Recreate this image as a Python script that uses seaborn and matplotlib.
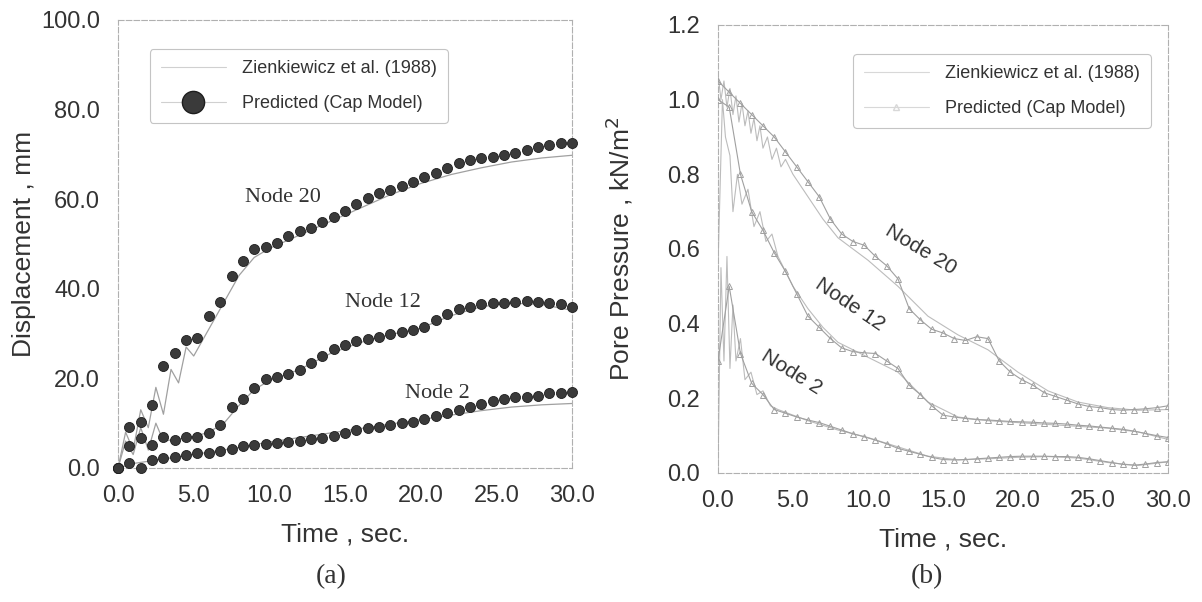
"""Displacement and pore pressure histories: Cap model vs Zienkiewicz et al. (1988)."""

import matplotlib

matplotlib.use("Agg")
import matplotlib.pyplot as plt
import pandas as pd
import seaborn as sns
from matplotlib.lines import Line2D
from matplotlib.ticker import FormatStrFormatter, MultipleLocator

# time steps of the predicted (Cap model) series, every 0.75 s
time_pred = [0.0, 0.75, 1.5, 2.25, 3.0, 3.75, 4.5, 5.25, 6.0, 6.75, 7.5, 8.25, 9.0, 9.75,
             10.5, 11.25, 12.0, 12.75, 13.5, 14.25, 15.0, 15.75, 16.5, 17.25, 18.0, 18.75,
             19.5, 20.25, 21.0, 21.75, 22.5, 23.25, 24.0, 24.75, 25.5, 26.25, 27.0, 27.75,
             28.5, 29.25, 30.0]

# (a) displacement, mm -- predicted
disp_pred_20 = [0.0, 9.2, 10.3, 14.1, 22.8, 25.7, 28.6, 29.0, 33.9, 37.1, 42.9, 46.1, 48.8,
                49.4, 50.3, 51.8, 52.8, 53.5, 54.8, 56.0, 57.4, 58.9, 60.2, 61.3, 62.1, 62.9,
                63.9, 65.0, 65.9, 66.9, 68.0, 68.8, 69.1, 69.5, 69.9, 70.4, 71.0, 71.6, 72.0,
                72.5, 72.6]
disp_pred_12 = [0.0, 4.8, 6.8, 5.1, 7.0, 6.3, 7.0, 7.0, 7.9, 9.6, 13.7, 15.5, 17.9, 19.8,
                20.4, 20.9, 21.9, 23.4, 25.0, 26.5, 27.5, 28.4, 28.7, 29.3, 29.8, 30.4, 30.8,
                31.5, 33.0, 34.4, 35.4, 36.0, 36.6, 36.9, 36.9, 37.1, 37.3, 37.1, 36.8, 36.5,
                35.9]
disp_pred_2 = [0.0, 1.2, 0.0, 1.8, 2.2, 2.5, 2.9, 3.4, 3.4, 3.9, 4.2, 4.8, 5.1, 5.4, 5.5,
               5.7, 6.0, 6.4, 6.8, 7.1, 7.9, 8.5, 8.9, 9.2, 9.6, 10.1, 10.3, 10.9, 11.5, 12.2,
               12.9, 13.7, 14.3, 15.0, 15.5, 15.8, 15.9, 16.1, 16.7, 16.8, 17.0]

# (a) displacement, mm -- Zienkiewicz et al. (1988)
time_ref_20 = [0, 0.5, 1.0, 1.5, 2.0, 2.5, 3.0, 3.5, 4.0, 4.5, 5.0, 6, 7, 8, 9, 10, 12, 14,
               16, 18, 20, 22, 24, 26, 28, 30]
disp_ref_20 = [0, 8, 4, 13, 9, 18, 12, 22, 19, 27, 25, 31, 37, 43, 47, 49, 52, 55, 58, 61,
               63.5, 65.5, 67, 68.3, 69.2, 69.8]
time_ref_12 = [0, 0.5, 1, 1.5, 2, 2.5, 3, 4, 5, 6, 7, 8, 9, 10, 12, 14, 16, 18, 20, 22, 24,
               26, 28, 30]
disp_ref_12 = [0, 6, 3, 9, 4, 10, 6, 6.5, 7, 8, 10, 14, 17.5, 19.5, 22, 25.5, 28, 29.8, 31.2,
               34, 36, 36.8, 36.5, 35.2]
time_ref_2 = [0, 1, 2, 4, 6, 8, 10, 12, 14, 16, 18, 20, 22, 24, 26, 28, 30]
disp_ref_2 = [0, 1.0, 1.5, 2.5, 3.5, 4.6, 5.8, 6.8, 7.8, 8.8, 9.8, 10.8, 11.8, 12.8, 13.6,
              14.1, 14.4]

# (b) pore pressure, kN/m2 -- predicted
pp_pred_20 = [1.05, 1.02, 0.99, 0.96, 0.93, 0.90, 0.86, 0.82, 0.78, 0.74, 0.68, 0.64, 0.62,
              0.61, 0.58, 0.555, 0.52, 0.44, 0.41, 0.385, 0.375, 0.36, 0.355, 0.365, 0.36,
              0.30, 0.27, 0.25, 0.235, 0.215, 0.205, 0.195, 0.185, 0.178, 0.175, 0.17, 0.168,
              0.17, 0.172, 0.175, 0.18]
pp_pred_12 = [1.0, 0.98, 0.80, 0.70, 0.65, 0.59, 0.54, 0.48, 0.42, 0.39, 0.36, 0.335, 0.325,
              0.322, 0.32, 0.30, 0.28, 0.235, 0.21, 0.18, 0.155, 0.15, 0.146, 0.143, 0.142,
              0.14, 0.138, 0.137, 0.136, 0.134, 0.133, 0.131, 0.128, 0.126, 0.123, 0.12,
              0.117, 0.112, 0.106, 0.10, 0.095]
pp_pred_2 = [0.30, 0.50, 0.32, 0.24, 0.21, 0.17, 0.16, 0.15, 0.142, 0.135, 0.125, 0.115,
             0.105, 0.097, 0.088, 0.078, 0.066, 0.058, 0.05, 0.042, 0.036, 0.035, 0.036,
             0.038, 0.04, 0.042, 0.044, 0.045, 0.045, 0.045, 0.044, 0.044, 0.042, 0.038,
             0.033, 0.028, 0.023, 0.021, 0.024, 0.028, 0.03]

# (b) pore pressure, kN/m2 -- Zienkiewicz et al. (1988)
time_pp_ref_20 = [0, 0.2, 0.4, 0.6, 0.8, 1.0, 1.2, 1.4, 1.6, 1.8, 2.0, 2.2, 2.4, 2.6, 2.8,
                  3.0, 3.3, 3.6, 3.9, 4.2, 4.5, 5, 6, 7, 8, 9, 10, 12, 14, 16, 18, 20, 22,
                  24, 26, 28, 30]
pp_ref_20 = [1.07, 1.00, 1.05, 0.98, 1.03, 0.96, 1.01, 0.94, 0.99, 0.93, 0.97, 0.91, 0.95,
             0.89, 0.93, 0.87, 0.90, 0.84, 0.87, 0.82, 0.84, 0.80, 0.74, 0.68, 0.63, 0.60,
             0.57, 0.50, 0.42, 0.37, 0.33, 0.27, 0.22, 0.19, 0.175, 0.168, 0.17]
time_pp_ref_12 = [0, 0.3, 0.5, 0.8, 1.0, 1.3, 1.6, 2.0, 2.4, 2.8, 3.2, 3.6, 4, 5, 6, 7, 8,
                  9, 10, 12, 14, 16, 18, 20, 22, 24, 26, 28, 30]
pp_ref_12 = [0.55, 1.0, 0.90, 0.85, 0.70, 0.80, 0.72, 0.76, 0.66, 0.70, 0.62, 0.64, 0.58,
             0.50, 0.44, 0.39, 0.35, 0.33, 0.31, 0.27, 0.19, 0.15, 0.14, 0.135, 0.13, 0.125,
             0.12, 0.11, 0.09]
time_pp_ref_2 = [0, 0.2, 0.4, 0.6, 0.8, 1.0, 1.2, 1.5, 1.8, 2.2, 2.6, 3, 3.5, 4, 5, 6, 8,
                 10, 12, 14, 16, 18, 20, 22, 24, 26, 28, 30]
pp_ref_2 = [0.0, 0.55, 0.30, 0.58, 0.28, 0.45, 0.30, 0.36, 0.25, 0.27, 0.21, 0.22, 0.18,
            0.17, 0.155, 0.14, 0.115, 0.095, 0.07, 0.045, 0.035, 0.038, 0.042, 0.044, 0.04,
            0.028, 0.02, 0.03]

SANS = "Liberation Sans"
SERIF = "Liberation Serif"
DARK = "#3a3a3a"
LIGHT = "#a0a0a0"
FAINT = "#bcbcbc"


def _style_axes(ax, xmajor, xminor, ymajor, yminor, xpad):
    ax.xaxis.set_major_locator(MultipleLocator(xmajor))
    ax.xaxis.set_minor_locator(MultipleLocator(xminor))
    ax.yaxis.set_major_locator(MultipleLocator(ymajor))
    ax.yaxis.set_minor_locator(MultipleLocator(yminor))
    ax.xaxis.set_major_formatter(FormatStrFormatter("%.1f"))
    ax.yaxis.set_major_formatter(FormatStrFormatter("%.1f"))
    ax.tick_params(which="both", direction="in", color="#9a9a9a", top=False, right=False)
    ax.tick_params(which="major", length=8, width=0.8, labelsize=17, labelcolor="#333333")
    ax.tick_params(which="minor", length=5, width=0.6)
    ax.tick_params(axis="y", which="major", pad=13)
    ax.tick_params(axis="x", which="major", pad=xpad)
    for label in ax.get_xticklabels() + ax.get_yticklabels():
        label.set_family(SANS)
    for spine in ax.spines.values():
        spine.set_color("#b0b0b0")
        spine.set_linewidth(0.8)
        spine.set_linestyle((0, (5, 2)))
        spine.set_visible(True)
    ax.set_xlim(0, 30)


def _legend(ax, handles, x0):
    leg = ax.legend(
        handles=handles,
        loc="upper left",
        bbox_to_anchor=(x0, 0.955),
        prop={"family": SANS, "size": 13},
        handlelength=3.6,
        handletextpad=0.9,
        labelspacing=1.0,
        borderpad=0.6,
        frameon=True,
        fancybox=True,
        framealpha=1,
    )
    leg.get_frame().set_edgecolor("#c4c4c4")
    leg.get_frame().set_linewidth(0.8)
    for text in leg.get_texts():
        text.set_color("#333333")


sns.set_theme(style="white")
plt.rcParams["font.family"] = [SANS, "DejaVu Sans"]

fig = plt.figure(figsize=(12.02, 6.02), dpi=100)
ax1 = fig.add_axes([0.0982, 0.2226, 0.3777, 0.7442])
ax2 = fig.add_axes([0.5973, 0.2143, 0.3744, 0.7442])

# ---------------- (a) displacement ----------------
for t_ref, z_ref in [(time_ref_20, disp_ref_20), (time_ref_12, disp_ref_12), (time_ref_2, disp_ref_2)]:
    sns.lineplot(x=t_ref, y=z_ref, ax=ax1, color=LIGHT, linewidth=0.9, sort=False,
                 estimator=None, zorder=2)

pred = pd.DataFrame({
    "time": time_pred * 3,
    "disp": disp_pred_20 + disp_pred_12 + disp_pred_2,
    "node": ["20"] * len(time_pred) + ["12"] * len(time_pred) + ["2"] * len(time_pred),
})
sns.scatterplot(data=pred, x="time", y="disp", ax=ax1, color=DARK, s=52,
                edgecolor="#1e1e1e", linewidth=0.6, legend=False, zorder=3, clip_on=False)

ax1.set_ylim(0, 100)
_style_axes(ax1, 5, 2.5, 20, 10, xpad=12)
ax1.set_xlabel("Time , sec.", fontsize=19, family=SANS, color="#333333")
ax1.set_ylabel("Displacement , mm", fontsize=19, family=SANS, color="#333333")
ax1.xaxis.set_label_coords(0.5, -0.122)
ax1.yaxis.set_label_coords(-0.18, 0.5)

for label, t, v in [("Node 20", 10.9, 60.3), ("Node 12", 17.5, 37.0), ("Node 2", 21.1, 16.7)]:
    ax1.text(t, v, label, family=SERIF, fontsize=16, color="#333333", ha="center", va="center")

_legend(ax1, [
    Line2D([], [], color="#d0d0d0", linewidth=0.8, label="Zienkiewicz et al. (1988)"),
    Line2D([], [], color="#d0d0d0", linewidth=0.8, marker="o", markersize=16,
           markerfacecolor=DARK, markeredgecolor="#1e1e1e", label="Predicted (Cap Model)"),
], x0=0.05)

# ---------------- (b) pore pressure ----------------
for t_ref, p_ref in [(time_pp_ref_20, pp_ref_20), (time_pp_ref_12, pp_ref_12), (time_pp_ref_2, pp_ref_2)]:
    sns.lineplot(x=t_ref, y=p_ref, ax=ax2, color=FAINT, linewidth=0.8, sort=False,
                 estimator=None, zorder=2)

for p_pred in [pp_pred_20, pp_pred_12, pp_pred_2]:
    sns.lineplot(x=time_pred, y=p_pred, ax=ax2, color=LIGHT, linewidth=0.8, sort=False,
                 estimator=None, marker="^", markersize=5, markerfacecolor="none",
                 markeredgecolor=LIGHT, markeredgewidth=0.7, zorder=3)

ax2.set_ylim(0, 1.2)
_style_axes(ax2, 5, 2.5, 0.2, 0.1, xpad=12)
ax2.set_xlabel("Time , sec.", fontsize=19, family=SANS, color="#333333")
ax2.set_ylabel("Pore Pressure , kN/m$^2$", fontsize=19, family=SANS, color="#333333")
ax2.xaxis.set_label_coords(0.5, -0.122)
ax2.yaxis.set_label_coords(-0.185, 0.5)

for label, t, v, rot in [("Node 20", 13.5, 0.597, -31), ("Node 12", 8.8, 0.45, -34),
                         ("Node 2", 4.9, 0.27, -32)]:
    ax2.text(t, v, label, family=SANS, fontsize=15, color="#333333", ha="center",
             va="center", rotation=rot, rotation_mode="anchor")

_legend(ax2, [
    Line2D([], [], color="#d8d8d8", linewidth=0.8, label="Zienkiewicz et al. (1988)"),
    Line2D([], [], color="#d8d8d8", linewidth=0.8, marker="^", markersize=5,
           markerfacecolor="none", markeredgecolor="#d8d8d8", label="Predicted (Cap Model)"),
], x0=0.28)

fig.text(331 / 1202, 1 - 577 / 602, "(a)", family=SERIF, fontsize=20, color="#333333",
         ha="center", va="center")
fig.text(927 / 1202, 1 - 577 / 602, "(b)", family=SERIF, fontsize=20, color="#333333",
         ha="center", va="center")

fig.savefig("out.png", dpi=100, facecolor="white")
plt.close(fig)
